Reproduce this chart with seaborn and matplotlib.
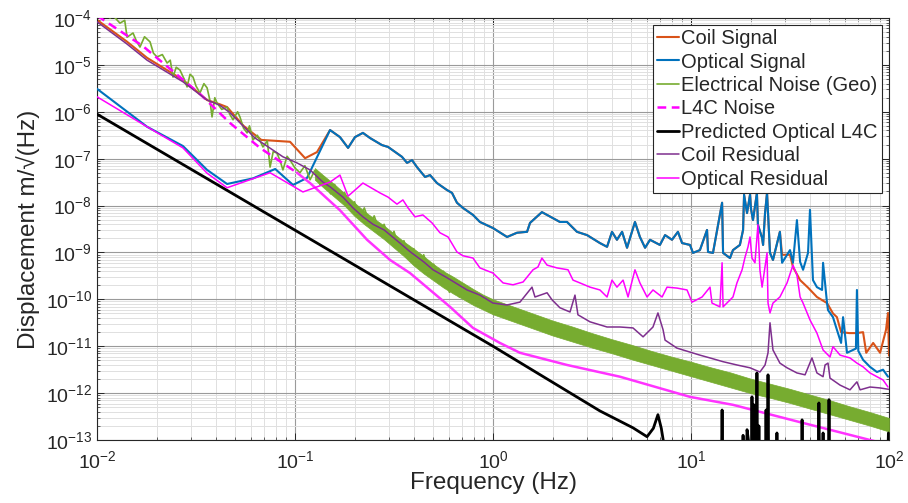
import numpy as np
import matplotlib
matplotlib.use("Agg")
import matplotlib.pyplot as plt
import seaborn as sns
from matplotlib.ticker import LogLocator, LogFormatterMathtext, NullFormatter

# ---------------- data (log10 of frequency in Hz, log10 of displacement) ----------------
# Coil signal, below 0.15 Hz (separate from optical signal)
coil_low_logf = [-2.0, -1.85, -1.747, -1.566, -1.444, -1.38, -1.343, -1.26, -1.17, -1.025, -0.949, -0.889]
coil_low_loga = [-4.04, -4.50, -4.85, -5.32, -5.75, -5.84, -5.90, -6.30, -6.60, -6.64, -6.99, -6.86]

# Optical signal, below 0.15 Hz
opt_low_logf = [-2.0, -1.747, -1.566, -1.444, -1.343, -1.212, -1.10, -1.010, -0.939]
opt_low_loga = [-5.51, -6.32, -6.73, -7.24, -7.54, -7.42, -7.22, -7.56, -7.41]

# Common trace of coil and optical signal (0.15 Hz - 28 Hz)
shared_logf = [-0.823, -0.773, -0.732, -0.697, -0.657, -0.621, -0.561, -0.530, -0.460, -0.434,
               -0.409, -0.384, -0.343, -0.318, -0.283, -0.232, -0.207, -0.182, -0.152, -0.101,
               -0.066, 0.0, 0.071, 0.121, 0.172, 0.187, 0.247, 0.273, 0.338, 0.374,
               0.424, 0.475, 0.540, 0.576, 0.601, 0.626, 0.652, 0.677, 0.717, 0.742,
               0.768, 0.793, 0.843, 0.869, 0.904, 0.934, 0.955, 0.995, 1.010, 1.045,
               1.081, 1.086, 1.111, 1.157, 1.162, 1.197, 1.212, 1.247, 1.263, 1.268,
               1.283, 1.298, 1.303, 1.313, 1.333, 1.338, 1.359, 1.364, 1.374, 1.384,
               1.399, 1.414, 1.449]
shared_loga = [-6.39, -6.54, -6.77, -6.54, -6.45, -6.56, -6.71, -6.75, -6.96, -7.09,
               -7.03, -7.18, -7.39, -7.35, -7.52, -7.67, -7.73, -7.94, -8.05, -8.20,
               -8.35, -8.48, -8.67, -8.58, -8.56, -8.37, -8.14, -8.20, -8.35, -8.35,
               -8.56, -8.63, -8.80, -8.88, -8.56, -8.73, -8.56, -8.90, -8.35, -8.67,
               -8.90, -8.73, -8.84, -8.63, -8.73, -8.56, -8.80, -8.84, -9.01, -8.95,
               -8.52, -8.99, -9.01, -7.94, -9.01, -9.12, -8.95, -8.84, -8.52, -7.77,
               -8.16, -7.77, -8.07, -8.31, -7.73, -8.41, -8.69, -8.84, -8.16, -7.73,
               -9.01, -9.16, -8.56]

# Optical signal above 28 Hz
opt_high_logf = [1.460, 1.5, 1.515, 1.535, 1.551, 1.566, 1.591, 1.601, 1.616, 1.636,
                 1.662, 1.667, 1.687, 1.692, 1.717, 1.737, 1.758, 1.768, 1.788, 1.818,
                 1.833, 1.838, 1.845, 1.869, 1.904, 1.939, 1.970, 1.995]
opt_high_loga = [-9.22, -8.95, -9.22, -8.31, -9.20, -9.37, -9.01, -8.09, -9.59, -9.74,
                 -9.80, -9.22, -10.08, -10.23, -10.38, -10.65, -10.93, -10.38, -11.14, -11.08,
                 -11.05, -9.80, -11.10, -11.29, -11.44, -11.55, -11.50, -11.65]

# Coil signal above 28 Hz
coil_high_logf = [1.460, 1.5, 1.515, 1.551, 1.591, 1.636, 1.687, 1.717, 1.737, 1.758,
                  1.80, 1.838, 1.869, 1.885, 1.920, 1.955, 1.985, 1.995, 2.0]
coil_high_loga = [-9.05, -9.05, -9.31, -9.59, -9.75, -9.95, -10.08, -10.30, -10.38, -10.70,
                  -10.72, -10.72, -10.70, -11.14, -10.93, -11.14, -10.65, -10.29, -11.2]

# Electrical noise (Geo): sparse low-frequency trace
geo_logf = [-2.0, -1.96, -1.934, -1.919, -1.884, -1.86, -1.848, -1.818, -1.80, -1.783,
            -1.76, -1.732, -1.715, -1.697, -1.67, -1.646, -1.63, -1.616, -1.60, -1.581,
            -1.56, -1.545, -1.53, -1.515, -1.50, -1.480, -1.46, -1.444, -1.43, -1.419,
            -1.405, -1.394, -1.37, -1.343, -1.33, -1.313, -1.29, -1.278, -1.26, -1.242,
            -1.23, -1.212, -1.19, -1.162, -1.14, -1.126, -1.11, -1.091, -1.075, -1.061,
            -1.04, -1.025, -1.0, -0.975, -0.95, -0.924, -0.90, -0.874, -0.85, -0.82,
            -0.80, -0.77, -0.75, -0.72, -0.70, -0.67, -0.65, -0.62, -0.60, -0.57,
            -0.55, -0.52, -0.50, -0.47, -0.45, -0.42, -0.40, -0.37, -0.35, -0.32,
            -0.30, -0.27, -0.25, -0.22, -0.20, -0.17, -0.15]
geo_loga = [-3.80, -3.92, -4.00, -3.95, -4.11, -4.05, -4.41, -4.32, -4.50, -4.62,
            -4.40, -4.51, -4.75, -4.83, -4.78, -4.96, -4.90, -5.26, -5.05, -5.11,
            -5.30, -5.47, -5.20, -5.26, -5.45, -5.60, -5.40, -5.49, -5.75, -6.11,
            -5.70, -5.81, -5.95, -5.90, -6.05, -6.17, -6.00, -6.11, -6.35, -6.45,
            -6.30, -6.60, -6.50, -6.75, -6.62, -7.18, -6.85, -6.88, -7.05, -7.24,
            -6.95, -7.03, -7.20, -7.30, -7.15, -7.45, -7.25, -7.55, -7.40, -7.75,
            -7.55, -7.90, -7.72, -8.05, -7.92, -8.25, -8.05, -8.42, -8.22, -8.58,
            -8.40, -8.78, -8.55, -8.98, -8.75, -9.12, -8.92, -9.35, -9.05, -9.45,
            -9.25, -9.62, -9.40, -9.85, -9.55, -9.95, -9.68]

# Electrical noise (Geo): dense band, upper and lower envelope
geo_band_logf = [-0.90, -0.85, -0.80, -0.75, -0.70, -0.65, -0.60, -0.55, -0.50, -0.45,
                 -0.40, -0.35, -0.30, -0.25, -0.20, -0.15, -0.10, -0.05, 0.0, 0.1,
                 0.2, 0.3, 0.4, 0.5, 0.6, 0.7, 0.8, 0.9, 1.0, 1.1,
                 1.2, 1.3, 1.4, 1.5, 1.6, 1.7, 1.8, 1.9, 2.0]
geo_band_hi = [-7.20, -7.38, -7.55, -7.74, -7.94, -8.12, -8.28, -8.43, -8.60, -8.77,
               -8.92, -9.08, -9.25, -9.40, -9.52, -9.65, -9.78, -9.90, -10.00, -10.15,
               -10.30, -10.45, -10.58, -10.72, -10.85, -10.97, -11.10, -11.22, -11.33, -11.45,
               -11.56, -11.69, -11.80, -11.91, -12.03, -12.15, -12.28, -12.40, -12.53]
geo_band_lo = [-7.45, -7.64, -7.82, -8.00, -8.22, -8.40, -8.56, -8.72, -8.90, -9.08,
               -9.28, -9.45, -9.60, -9.75, -9.88, -10.00, -10.12, -10.22, -10.32, -10.47,
               -10.62, -10.77, -10.90, -11.03, -11.15, -11.28, -11.40, -11.52, -11.64, -11.76,
               -11.88, -12.00, -12.10, -12.21, -12.33, -12.45, -12.57, -12.69, -12.82]

# L4C noise
l4c_logf = [-2.0, -1.768, -1.48, -1.328, -1.177, -0.99, -0.924, -0.773, -0.636, -0.52,
            -0.419, -0.217, -0.101, 0.035, 0.136, 0.374, 0.641, 0.995, 1.212, 1.551,
            1.904, 2.0]
l4c_loga = [-3.95, -4.60, -5.62, -6.24, -6.77, -7.30, -7.52, -8.10, -8.73, -9.16,
            -9.44, -10.16, -10.61, -10.93, -11.14, -11.40, -11.65, -12.08, -12.25, -12.62,
            -13.0, -13.1]

# Predicted optical L4C
pred_logf = [-2.0, 0.0, 0.54, 0.707, 0.778, 0.81, 0.833, 0.85, 0.875,
             1.154, 1.157, 1.160,
             1.260, 1.263, 1.266, 1.280, 1.283, 1.290, 1.305, 1.308, 1.311, 1.315, 1.318, 1.321,
             1.330, 1.333, 1.336, 1.340, 1.343, 1.346,
             1.376, 1.379, 1.382, 1.386, 1.389, 1.392,
             1.431, 1.434, 1.437,
             1.558, 1.561, 1.564,
             1.643, 1.646, 1.649, 1.664, 1.667, 1.670, 1.694, 1.697, 1.700,
             1.994, 1.997, 2.0]
pred_loga = [-6.05, -11.0, -12.38, -12.74, -12.93, -12.75, -12.46, -12.75, -13.4,
             -13.4, -12.36, -13.4,
             -13.4, -12.90, -13.4, -13.4, -12.78, -13.0, -13.4, -12.08, -13.4, -13.4, -12.25, -13.0,
             -13.4, -11.57, -13.4, -13.4, -12.70, -13.4,
             -13.4, -12.36, -13.4, -13.4, -11.61, -13.4,
             -13.4, -12.85, -13.4,
             -13.4, -12.57, -13.4,
             -13.4, -12.21, -13.4, -13.4, -12.85, -13.4, -13.4, -12.14, -13.4,
             -13.4, -12.85, -12.85]

# Coil residual
coilres_logf = [-2.0, -1.85, -1.747, -1.566, -1.444, -1.38, -1.328, -1.202, -1.061, -0.990,
                -0.924, -0.859, -0.823, -0.758, -0.707, -0.657, -0.606, -0.55, -0.47, -0.42,
                -0.35, -0.303, -0.232, -0.131, -0.066, 0.0, 0.071, 0.136, 0.197, 0.212,
                0.273, 0.298, 0.338, 0.389, 0.414, 0.429, 0.490, 0.576, 0.641, 0.707,
                0.758, 0.808, 0.833, 0.859, 0.869, 0.929, 1.045, 1.096, 1.162, 1.232,
                1.298, 1.348, 1.374, 1.389, 1.399, 1.414, 1.449, 1.485, 1.535, 1.576,
                1.611, 1.636, 1.667, 1.677, 1.692, 1.702, 1.753, 1.803, 1.838, 1.854,
                1.904, 1.955, 2.0]
coilres_loga = [-4.08, -4.55, -4.90, -5.36, -5.75, -5.86, -6.02, -6.56, -6.96, -7.09,
                -7.24, -7.50, -7.60, -7.82, -8.05, -8.24, -8.40, -8.52, -8.80, -8.98,
                -9.20, -9.37, -9.54, -9.80, -9.91, -10.08, -10.12, -10.06, -9.74, -9.95,
                -9.86, -10.01, -10.18, -10.27, -9.91, -10.33, -10.48, -10.59, -10.59, -10.61,
                -10.80, -10.59, -10.29, -10.65, -10.87, -11.04, -11.19, -11.25, -11.33, -11.40,
                -11.46, -11.55, -11.40, -11.14, -10.50, -11.08, -11.36, -11.46, -11.57, -11.61,
                -11.25, -11.57, -11.65, -11.40, -11.36, -11.68, -11.83, -11.93, -11.76, -11.93,
                -11.87, -11.89, -11.92]

# Optical residual
optres_logf = [-2.0, -1.747, -1.566, -1.444, -1.343, -1.126, -0.96, -0.823, -0.773, -0.732,
               -0.657, -0.571, -0.530, -0.485, -0.455, -0.429, -0.394, -0.354, -0.308, -0.268,
               -0.227, -0.182, -0.152, -0.101, -0.066, 0.0, 0.051, 0.101, 0.152, 0.202,
               0.227, 0.247, 0.273, 0.323, 0.379, 0.404, 0.439, 0.490, 0.540, 0.576,
               0.601, 0.626, 0.657, 0.682, 0.717, 0.742, 0.778, 0.808, 0.854, 0.879,
               0.929, 0.980, 1.005, 1.056, 1.096, 1.106, 1.146, 1.157, 1.162, 1.212,
               1.232, 1.258, 1.273, 1.288, 1.298, 1.308, 1.323, 1.338, 1.348, 1.359,
               1.384, 1.389, 1.399, 1.414, 1.449, 1.485, 1.515, 1.535, 1.551, 1.566,
               1.601, 1.636, 1.667, 1.702, 1.717, 1.753, 1.803, 1.838, 1.869, 1.904,
               1.939, 1.970, 1.995]
optres_loga = [-5.68, -6.32, -6.77, -7.31, -7.62, -7.30, -7.71, -7.50, -7.35, -7.80,
               -7.52, -7.73, -7.82, -7.97, -7.88, -8.05, -8.24, -8.20, -8.37, -8.58,
               -8.67, -8.99, -9.07, -9.12, -9.33, -9.44, -9.65, -9.69, -9.63, -9.37,
               -9.31, -9.12, -9.27, -9.33, -9.37, -9.59, -9.65, -9.74, -9.80, -9.95,
               -9.59, -9.74, -9.59, -9.95, -9.37, -9.65, -9.95, -9.80, -9.95, -9.74,
               -9.76, -9.80, -10.06, -9.95, -9.74, -10.08, -10.16, -9.22, -10.16, -9.95,
               -9.65, -9.37, -9.10, -8.88, -8.67, -9.12, -9.22, -8.41, -9.37, -9.74,
               -9.01, -10.08, -10.29, -10.08, -9.95, -9.65, -9.27, -9.48, -9.95, -10.08,
               -10.44, -10.72, -11.08, -11.23, -11.01, -11.19, -11.25, -11.36, -11.44, -11.57,
               -11.65, -11.72, -11.87]

labels = ["Coil Signal", "Optical Signal", "Electrical Noise (Geo)", "L4C Noise",
          "Predicted Optical L4C", "Coil Residual", "Optical Residual"]

# ---------------- style ----------------
sns.set_style("ticks")
plt.rcParams['font.family'] = ['Liberation Sans', 'DejaVu Sans']
plt.rcParams['mathtext.fontset'] = 'custom'
plt.rcParams['mathtext.rm'] = 'Liberation Sans'
plt.rcParams['mathtext.it'] = 'Liberation Sans:italic'
plt.rcParams['mathtext.bf'] = 'Liberation Sans:bold'

C_ORANGE = '#D95319'
C_BLUE = '#0072BD'
C_GREEN = '#77AC30'
C_PURPLE = '#7E2F8E'
C_MAGENTA = '#FF00FF'
C_AX = '#262626'

fig = plt.figure(figsize=(9.08, 5.03), dpi=100)
ax = fig.add_axes([97 / 908, 1 - 440 / 503, 792 / 908, 422 / 503])
ax.set_xscale('log')
ax.set_yscale('log')


def draw(lf, la, color, lw, z):
    x = 10.0 ** np.asarray(lf, dtype=float)
    y = 10.0 ** np.asarray(la, dtype=float)
    sns.lineplot(x=x, y=y, ax=ax, color=color, linewidth=lw, estimator=None,
                 sort=False, legend=False, zorder=z)
    return ax.get_lines()[-1]


h_coil = draw(coil_low_logf + shared_logf + coil_high_logf,
              coil_low_loga + shared_loga + coil_high_loga, C_ORANGE, 1.5, 2)
h_opt = draw(opt_low_logf + shared_logf + opt_high_logf,
             opt_low_loga + shared_loga + opt_high_loga, C_BLUE, 1.5, 3)

ax.fill_between(10.0 ** np.asarray(geo_band_logf), 10.0 ** np.asarray(geo_band_lo),
                10.0 ** np.asarray(geo_band_hi), color=C_GREEN, lw=0.5, zorder=4)
h_geo = draw(geo_logf, geo_loga, C_GREEN, 1.2, 4)

l4c_f = np.asarray(l4c_logf)
l4c_a = np.asarray(l4c_loga)
dash_mask = l4c_f <= -0.99
h_l4c = draw(l4c_f[dash_mask], l4c_a[dash_mask], C_MAGENTA, 1.8, 5)
h_l4c.set_dashes([3.5, 2.2])
draw(l4c_f[l4c_f >= -0.99], l4c_a[l4c_f >= -0.99], '#FF33FF', 1.8, 5)

h_pred = draw(pred_logf, pred_loga, 'black', 2.0, 6)
h_cres = draw(coilres_logf, coilres_loga, C_PURPLE, 1.1, 7)
h_ores = draw(optres_logf, optres_loga, C_MAGENTA, 1.1, 8)

ax.set_xlim(1e-2, 1e2)
ax.set_ylim(1e-13, 1e-4)

ax.xaxis.set_major_locator(LogLocator(base=10, numticks=20))
ax.yaxis.set_major_locator(LogLocator(base=10, numticks=20))
ax.xaxis.set_minor_locator(LogLocator(base=10, subs=np.arange(2, 10), numticks=200))
ax.yaxis.set_minor_locator(LogLocator(base=10, subs=np.arange(2, 10), numticks=200))
ax.xaxis.set_major_formatter(LogFormatterMathtext())
ax.yaxis.set_major_formatter(LogFormatterMathtext())
ax.xaxis.set_minor_formatter(NullFormatter())
ax.yaxis.set_minor_formatter(NullFormatter())

ax.grid(True, which='major', color='#9a9a9a', lw=0.8)
ax.grid(True, which='minor', color='#e0e0e0', lw=0.7)
ax.set_axisbelow(True)

ax.tick_params(which='both', direction='in', top=True, right=True, colors=C_AX,
               labelsize=14, labelcolor=C_AX)
ax.tick_params(which='major', length=5, width=0.7)
ax.tick_params(which='minor', length=2.5, width=0.5)
ax.tick_params(axis='x', which='major', pad=7)
for s in ax.spines.values():
    s.set_color(C_AX)
    s.set_linewidth(0.8)

ax.set_xlabel('Frequency (Hz)', fontsize=17.5, color=C_AX, labelpad=0)
ax.set_ylabel('Displacement m/\u221a(Hz)', fontsize=17.5, color=C_AX, labelpad=4)

leg = ax.legend([h_coil, h_opt, h_geo, h_l4c, h_pred, h_cres, h_ores], labels,
                loc='upper right', fontsize=14.5, frameon=True, fancybox=False,
                edgecolor=C_AX, framealpha=1, handlelength=1.1, handletextpad=0.12,
                labelspacing=0.22, borderpad=0.2, borderaxespad=0.35)
leg.get_frame().set_linewidth(0.8)
leg.set_zorder(20)

fig.savefig('out.png', dpi=100)
